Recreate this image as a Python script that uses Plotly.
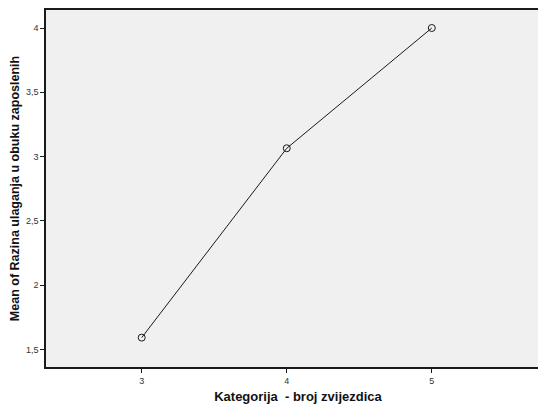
import plotly.graph_objects as go

categories = [3, 4, 5]
means = [1.593, 3.065, 4.0]
y_ticks = [1.5, 2, 2.5, 3, 3.5, 4]
y_tick_labels = ["1,5", "2", "2,5", "3", "3,5", "4"]
x_title = "Kategorija  - broj zvijezdica"
y_title = "Mean of Razina ulaganja u obuku zaposlenih"

family = "Liberation Sans, Arial, sans-serif"

fig = go.Figure()
fig.add_trace(go.Scatter(
    x=categories, y=means, mode="lines+markers",
    line=dict(color="#1a1a1a", width=1),
    marker=dict(symbol="circle-open", size=7, color="#1a1a1a", line=dict(width=1)),
    showlegend=False,
))

# page body has an 8px default margin, so the figure is sized/offset to compensate
fig.update_layout(
    width=546, height=398,
    margin=dict(l=38, r=4, t=2, b=39, autoexpand=False),
    paper_bgcolor="white",
    plot_bgcolor="#F0F0F0",
    font=dict(family=family, color="#222222"),
)
fig.update_xaxes(
    range=[2.34, 5.815], automargin=False,
    tickvals=categories, ticktext=[str(c) for c in categories],
    showgrid=False, zeroline=False,
    showline=True, linecolor="#1a1a1a", linewidth=1.5, mirror=True,
    ticks="outside", ticklen=4, tickcolor="#1a1a1a", tickwidth=1,
    tickfont=dict(size=9, color="#333333"),
    title=dict(text=x_title, font=dict(size=13, color="#111111", family=family, weight="bold"), standoff=7),
)
fig.update_yaxes(
    range=[1.3645, 4.14], automargin=False,
    tickvals=y_ticks, ticktext=y_tick_labels,
    showgrid=False, zeroline=False,
    showline=True, linecolor="#1a1a1a", linewidth=1.5, mirror=False,
    ticks="outside", ticklen=4, tickcolor="#1a1a1a", tickwidth=1,
    tickfont=dict(size=9, color="#333333"),
    title=dict(text=y_title, font=dict(size=12.5, color="#111111", family=family, weight="bold"), standoff=8),
)

fig.write_html("out.html")
